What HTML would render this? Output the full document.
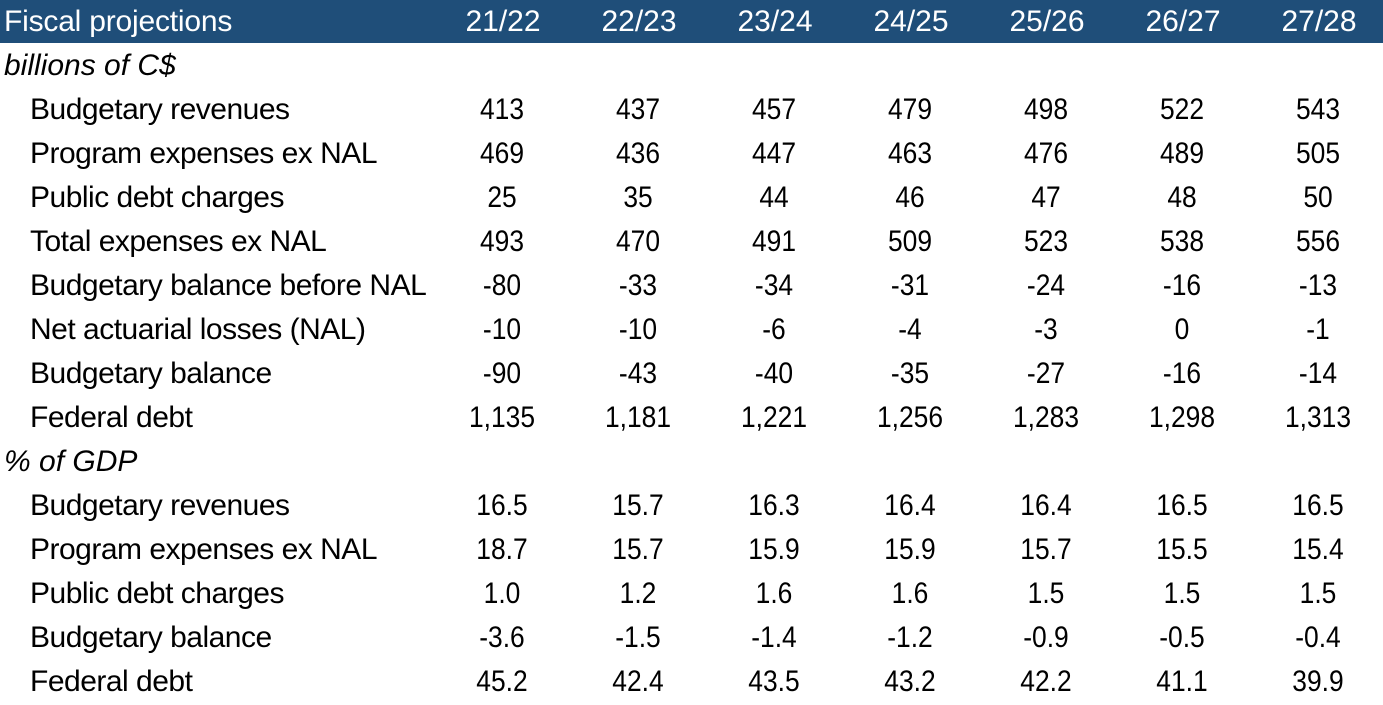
<!DOCTYPE html>
<html><head><meta charset="utf-8"><style>
html,body{margin:0;padding:0;background:#fff;}
body{width:1383px;height:705px;position:relative;overflow:hidden;font-family:"Liberation Sans",Arial,sans-serif;font-size:30px;color:#000;}
.bar{position:absolute;left:0;top:0;width:1383px;height:43px;background:#1f4e79;}
.r{position:absolute;height:44px;line-height:44px;white-space:nowrap;}
.h{color:#fff;}
.lab{left:30px;letter-spacing:-0.5px;}
.sec{left:4px;font-style:italic;}
.n{width:140px;text-align:center;transform:scaleX(0.88);}
</style></head><body>
<div class="bar"></div>
<div class="r h" style="left:4px;top:0px;letter-spacing:-0.2px">Fiscal projections</div>
<div class="r h n" style="left:433px;top:0px;transform:none">21/22</div>
<div class="r h n" style="left:569px;top:0px;transform:none">22/23</div>
<div class="r h n" style="left:705px;top:0px;transform:none">23/24</div>
<div class="r h n" style="left:841px;top:0px;transform:none">24/25</div>
<div class="r h n" style="left:977px;top:0px;transform:none">25/26</div>
<div class="r h n" style="left:1113px;top:0px;transform:none">26/27</div>
<div class="r h n" style="left:1249px;top:0px;transform:none">27/28</div>

<div class="r sec" style="top:44px">billions of C$</div>

<div class="r lab" style="top:88px">Budgetary revenues</div>
<div class="r n" style="left:432px;top:88px">413</div><div class="r n" style="left:568px;top:88px">437</div><div class="r n" style="left:704px;top:88px">457</div><div class="r n" style="left:840px;top:88px">479</div><div class="r n" style="left:976px;top:88px">498</div><div class="r n" style="left:1112px;top:88px">522</div><div class="r n" style="left:1248px;top:88px">543</div>

<div class="r lab" style="top:132px">Program expenses ex NAL</div>
<div class="r n" style="left:432px;top:132px">469</div><div class="r n" style="left:568px;top:132px">436</div><div class="r n" style="left:704px;top:132px">447</div><div class="r n" style="left:840px;top:132px">463</div><div class="r n" style="left:976px;top:132px">476</div><div class="r n" style="left:1112px;top:132px">489</div><div class="r n" style="left:1248px;top:132px">505</div>

<div class="r lab" style="top:176px">Public debt charges</div>
<div class="r n" style="left:432px;top:176px">25</div><div class="r n" style="left:568px;top:176px">35</div><div class="r n" style="left:704px;top:176px">44</div><div class="r n" style="left:840px;top:176px">46</div><div class="r n" style="left:976px;top:176px">47</div><div class="r n" style="left:1112px;top:176px">48</div><div class="r n" style="left:1248px;top:176px">50</div>

<div class="r lab" style="top:220px">Total expenses ex NAL</div>
<div class="r n" style="left:432px;top:220px">493</div><div class="r n" style="left:568px;top:220px">470</div><div class="r n" style="left:704px;top:220px">491</div><div class="r n" style="left:840px;top:220px">509</div><div class="r n" style="left:976px;top:220px">523</div><div class="r n" style="left:1112px;top:220px">538</div><div class="r n" style="left:1248px;top:220px">556</div>

<div class="r lab" style="top:264px">Budgetary balance before NAL</div>
<div class="r n" style="left:432px;top:264px">-80</div><div class="r n" style="left:568px;top:264px">-33</div><div class="r n" style="left:704px;top:264px">-34</div><div class="r n" style="left:840px;top:264px">-31</div><div class="r n" style="left:976px;top:264px">-24</div><div class="r n" style="left:1112px;top:264px">-16</div><div class="r n" style="left:1248px;top:264px">-13</div>

<div class="r lab" style="top:308px">Net actuarial losses (NAL)</div>
<div class="r n" style="left:432px;top:308px">-10</div><div class="r n" style="left:568px;top:308px">-10</div><div class="r n" style="left:704px;top:308px">-6</div><div class="r n" style="left:840px;top:308px">-4</div><div class="r n" style="left:976px;top:308px">-3</div><div class="r n" style="left:1112px;top:308px">0</div><div class="r n" style="left:1248px;top:308px">-1</div>

<div class="r lab" style="top:352px">Budgetary balance</div>
<div class="r n" style="left:432px;top:352px">-90</div><div class="r n" style="left:568px;top:352px">-43</div><div class="r n" style="left:704px;top:352px">-40</div><div class="r n" style="left:840px;top:352px">-35</div><div class="r n" style="left:976px;top:352px">-27</div><div class="r n" style="left:1112px;top:352px">-16</div><div class="r n" style="left:1248px;top:352px">-14</div>

<div class="r lab" style="top:396px">Federal debt</div>
<div class="r n" style="left:432px;top:396px">1,135</div><div class="r n" style="left:568px;top:396px">1,181</div><div class="r n" style="left:704px;top:396px">1,221</div><div class="r n" style="left:840px;top:396px">1,256</div><div class="r n" style="left:976px;top:396px">1,283</div><div class="r n" style="left:1112px;top:396px">1,298</div><div class="r n" style="left:1248px;top:396px">1,313</div>

<div class="r sec" style="top:440px">% of GDP</div>

<div class="r lab" style="top:484px">Budgetary revenues</div>
<div class="r n" style="left:432px;top:484px">16.5</div><div class="r n" style="left:568px;top:484px">15.7</div><div class="r n" style="left:704px;top:484px">16.3</div><div class="r n" style="left:840px;top:484px">16.4</div><div class="r n" style="left:976px;top:484px">16.4</div><div class="r n" style="left:1112px;top:484px">16.5</div><div class="r n" style="left:1248px;top:484px">16.5</div>

<div class="r lab" style="top:528px">Program expenses ex NAL</div>
<div class="r n" style="left:432px;top:528px">18.7</div><div class="r n" style="left:568px;top:528px">15.7</div><div class="r n" style="left:704px;top:528px">15.9</div><div class="r n" style="left:840px;top:528px">15.9</div><div class="r n" style="left:976px;top:528px">15.7</div><div class="r n" style="left:1112px;top:528px">15.5</div><div class="r n" style="left:1248px;top:528px">15.4</div>

<div class="r lab" style="top:572px">Public debt charges</div>
<div class="r n" style="left:432px;top:572px">1.0</div><div class="r n" style="left:568px;top:572px">1.2</div><div class="r n" style="left:704px;top:572px">1.6</div><div class="r n" style="left:840px;top:572px">1.6</div><div class="r n" style="left:976px;top:572px">1.5</div><div class="r n" style="left:1112px;top:572px">1.5</div><div class="r n" style="left:1248px;top:572px">1.5</div>

<div class="r lab" style="top:616px">Budgetary balance</div>
<div class="r n" style="left:432px;top:616px">-3.6</div><div class="r n" style="left:568px;top:616px">-1.5</div><div class="r n" style="left:704px;top:616px">-1.4</div><div class="r n" style="left:840px;top:616px">-1.2</div><div class="r n" style="left:976px;top:616px">-0.9</div><div class="r n" style="left:1112px;top:616px">-0.5</div><div class="r n" style="left:1248px;top:616px">-0.4</div>

<div class="r lab" style="top:660px">Federal debt</div>
<div class="r n" style="left:432px;top:660px">45.2</div><div class="r n" style="left:568px;top:660px">42.4</div><div class="r n" style="left:704px;top:660px">43.5</div><div class="r n" style="left:840px;top:660px">43.2</div><div class="r n" style="left:976px;top:660px">42.2</div><div class="r n" style="left:1112px;top:660px">41.1</div><div class="r n" style="left:1248px;top:660px">39.9</div>
</body></html>
